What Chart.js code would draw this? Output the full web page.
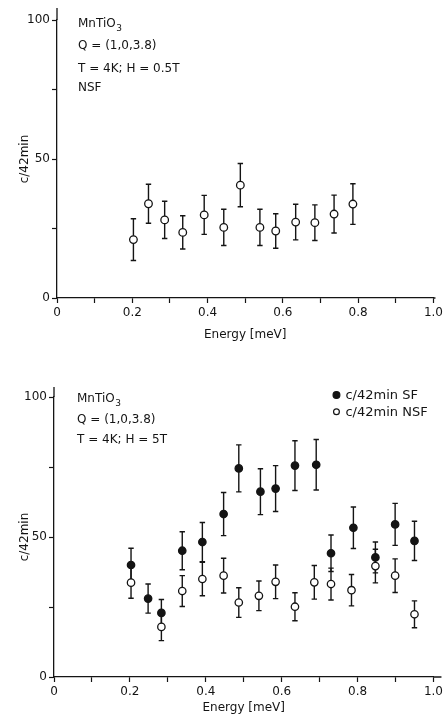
<!DOCTYPE html>
<html>
<head>
<meta charset="utf-8">
<script src="https://cdn.jsdelivr.net/npm/chart.js@4.4.1/dist/chart.umd.min.js"></script>
<style>
  html, body { margin: 0; padding: 0; background: #fff; }
  #top { position: absolute; left: 0; top: 0; width: 446px; height: 345px; }
  #bottom { position: absolute; left: 0; top: 360px; width: 446px; height: 361px; }
</style>
</head>
<body>
<div id="top"><canvas id="chartLow"></canvas></div>
<div id="bottom"><canvas id="chartHigh"></canvas></div>
<script>
// upper panel: H = 0.5T, NSF only
const energyLow = [0.203, 0.243, 0.286, 0.334, 0.391, 0.443, 0.487, 0.539, 0.581, 0.634, 0.685, 0.736, 0.786];
const countsLow = [21.0, 33.9, 28.1, 23.6, 29.9, 25.4, 40.6, 25.4, 24.1, 27.3, 27.1, 30.2, 33.8];
const errLow = [7.5, 7.0, 6.7, 6.0, 7.0, 6.5, 7.8, 6.5, 6.2, 6.4, 6.4, 6.8, 7.3];

// lower panel: H = 5T, SF and NSF
const energySF = [0.203, 0.248, 0.283, 0.338, 0.391, 0.447, 0.487, 0.544, 0.584, 0.635, 0.691, 0.730, 0.789, 0.847, 0.899, 0.950];
const countsSF = [40.0, 28.0, 22.9, 45.1, 48.2, 58.2, 74.5, 66.2, 67.3, 75.5, 75.8, 44.2, 53.3, 42.7, 54.5, 48.6];
const errSF = [6.0, 5.2, 4.8, 6.8, 7.0, 7.7, 8.4, 8.2, 8.2, 8.9, 9.0, 6.5, 7.4, 5.5, 7.5, 7.0];

const energyNSF = [0.203, 0.283, 0.338, 0.391, 0.447, 0.487, 0.540, 0.584, 0.635, 0.686, 0.730, 0.784, 0.847, 0.899, 0.950];
const countsNSF = [33.7, 17.9, 30.7, 35.0, 36.2, 26.6, 29.0, 34.0, 25.1, 33.8, 33.2, 31.0, 39.6, 36.2, 22.4];
const errNSF = [5.6, 4.9, 5.5, 6.0, 6.2, 5.3, 5.3, 6.0, 5.0, 6.0, 5.7, 5.6, 6.0, 6.0, 4.8];

// ticks every 0.1 / 25, labels only on the major ones
const xTickLabels = ['0', '', '0.2', '', '0.4', '', '0.6', '', '0.8', '', '1.0'];
const yTickLabels = ['0', '', '50', '', '100'];

const notesLow = ['Q = (1,0,3.8)', 'T = 4K; H = 0.5T', 'NSF'];
const notesHigh = ['Q = (1,0,3.8)', 'T = 4K; H = 5T'];
const legendLabels = ['c/42min SF', 'c/42min NSF'];

const ink = '#141414';
const fontFamily = '"DejaVu Sans", sans-serif';

function toPoints(xs, ys) {
  return xs.map((x, i) => ({ x: x, y: ys[i] }));
}

// vertical error bars with small caps, drawn under the markers
const errorBars = {
  id: 'errorBars',
  beforeDatasetsDraw(chart) {
    const { ctx, scales: { x, y } } = chart;
    ctx.save();
    ctx.strokeStyle = ink;
    ctx.lineWidth = 1.4;
    chart.data.datasets.forEach(ds => {
      ds.data.forEach((p, i) => {
        const px = x.getPixelForValue(p.x);
        const top = y.getPixelForValue(p.y + ds.errors[i]);
        const bot = y.getPixelForValue(p.y - ds.errors[i]);
        ctx.beginPath();
        ctx.moveTo(px, top); ctx.lineTo(px, bot);
        ctx.moveTo(px - 2.7, top); ctx.lineTo(px + 2.7, top);
        ctx.moveTo(px - 2.7, bot); ctx.lineTo(px + 2.7, bot);
        ctx.stroke();
      });
    });
    ctx.restore();
  }
};

// the axis lines run a little past the plot box, as on the original plot
const axisOverrun = {
  id: 'axisOverrun',
  afterDraw(chart, args, opts) {
    const { ctx, chartArea: a } = chart;
    ctx.save();
    ctx.strokeStyle = ink;
    ctx.lineWidth = 1.3;
    ctx.beginPath();
    ctx.moveTo(a.left, a.top); ctx.lineTo(a.left, a.top - opts.up);
    ctx.moveTo(a.right, a.bottom); ctx.lineTo(a.right + opts.right, a.bottom);
    ctx.stroke();
    ctx.restore();
  }
};

// sample text in the upper left corner and the legend in the upper right
const notes = {
  id: 'notes',
  afterDraw(chart, args, opts) {
    const { ctx, chartArea } = chart;
    ctx.save();
    ctx.fillStyle = ink;
    ctx.textBaseline = 'alphabetic';
    ctx.textAlign = 'left';
    const x0 = chartArea.left + opts.dx;
    ctx.font = '12px ' + fontFamily;
    ctx.fillText('MnTiO', x0, chartArea.top + opts.baselines[0]);
    const w = ctx.measureText('MnTiO').width;
    ctx.font = '9px ' + fontFamily;
    ctx.fillText('3', x0 + w + 0.5, chartArea.top + opts.baselines[0] + 4);
    ctx.font = '12px ' + fontFamily;
    opts.lines.forEach((t, i) => {
      ctx.fillText(t, x0, chartArea.top + opts.baselines[i + 1]);
    });

    if (opts.legend) {
      const lx = chartArea.right - 97;
      chart.data.datasets.forEach((ds, i) => {
        const ly = chartArea.top - 2 + i * 16.7;
        ctx.beginPath();
        ctx.arc(lx, ly, i === 0 ? 3.4 : 2.9, 0, Math.PI * 2);
        ctx.fillStyle = ds.pointBackgroundColor;
        ctx.fill();
        ctx.lineWidth = 1.2;
        ctx.strokeStyle = ink;
        ctx.stroke();
        ctx.fillStyle = ink;
        ctx.font = '13px ' + fontFamily;
        ctx.textBaseline = 'middle';
        ctx.fillText(ds.label, lx + 9, ly + 0.5);
      });
    }
    ctx.restore();
  }
};

function makeScales(yWidth, xHeight, xTitlePad) {
  const tickFont = { family: fontFamily, size: 12 };
  return {
    x: {
      type: 'linear', min: 0, max: 1,
      ticks: {
        stepSize: 0.1, autoSkip: false, maxRotation: 0, padding: 3,
        color: ink, font: tickFont,
        callback: (v, i) => xTickLabels[i]
      },
      grid: { drawOnChartArea: false, tickLength: 5, tickColor: ink, tickWidth: 1.2 },
      border: { color: ink, width: 1.3 },
      title: {
        display: true, text: 'Energy [meV]', color: ink, font: tickFont,
        padding: { top: 0, bottom: xTitlePad }
      },
      afterFit: s => { s.height = xHeight; }
    },
    y: {
      min: 0, max: 100,
      ticks: {
        stepSize: 25, padding: 2, color: ink, font: tickFont,
        callback: (v, i) => yTickLabels[i]
      },
      grid: { drawOnChartArea: false, tickLength: 5, tickColor: ink, tickWidth: 1.2 },
      border: { color: ink, width: 1.3 },
      title: {
        display: true, text: 'c/42min', color: ink, font: tickFont,
        padding: { top: 18, bottom: 0 }
      },
      afterFit: s => { s.width = yWidth; }
    }
  };
}

function markerSet(label, pts, errs, fill, r) {
  return {
    label: label,
    data: pts,
    errors: errs,
    showLine: false,
    pointRadius: r,
    pointHoverRadius: r,
    pointBackgroundColor: fill,
    pointBorderColor: ink,
    pointBorderWidth: 1.3
  };
}

new Chart(document.getElementById('chartLow'), {
  type: 'scatter',
  data: {
    datasets: [markerSet('c/42min NSF', toPoints(energyLow, countsLow), errLow, '#ffffff', 3.8)]
  },
  options: {
    responsive: true,
    maintainAspectRatio: false,
    animation: false,
    layout: { padding: { left: 0, top: 20, right: 11, bottom: 0 } },
    scales: makeScales(57, 47, 2.8),
    plugins: {
      legend: { display: false },
      tooltip: { enabled: false },
      axisOverrun: { up: 12, right: 2 },
      notes: { dx: 21, baselines: [6.5, 29.3, 52, 70.7], lines: notesLow, legend: false }
    }
  },
  plugins: [errorBars, axisOverrun, notes]
});

new Chart(document.getElementById('chartHigh'), {
  type: 'scatter',
  data: {
    datasets: [
      markerSet(legendLabels[0], toPoints(energySF, countsSF), errSF, ink, 3.7),
      markerSet(legendLabels[1], toPoints(energyNSF, countsNSF), errNSF, '#ffffff', 3.7)
    ]
  },
  options: {
    responsive: true,
    maintainAspectRatio: false,
    animation: false,
    layout: { padding: { left: 0, top: 37, right: 12, bottom: 0 } },
    scales: makeScales(54, 44, 5.8),
    plugins: {
      legend: { display: false },
      tooltip: { enabled: false },
      axisOverrun: { up: 10, right: 8 },
      notes: { dx: 23, baselines: [4.7, 25.7, 46.3], lines: notesHigh, legend: true }
    }
  },
  plugins: [errorBars, axisOverrun, notes]
});
</script>
</body>
</html>
